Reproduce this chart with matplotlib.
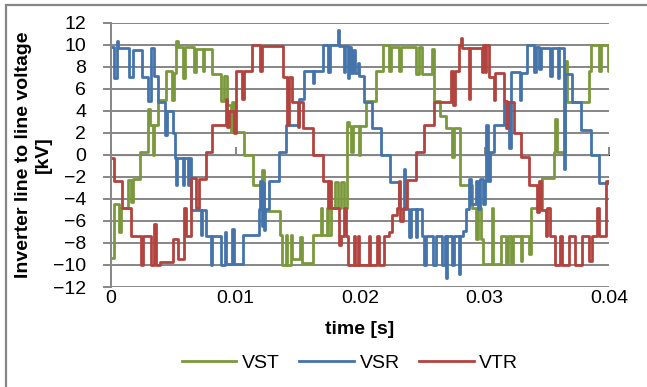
import numpy as np
import matplotlib
matplotlib.use("Agg")
import matplotlib.pyplot as plt
from matplotlib.patches import Rectangle

plt.rcParams['font.family'] = ['Liberation Sans', 'DejaVu Sans']

# step data: time of each step [ms] and the level [kV]
vsr_t = [0.0, 0.22, 0.45, 0.6, 1.42, 1.75, 2.45, 3.0, 3.25, 3.45, 3.75, 4.35, 4.5, 5.0, 5.15,
         5.2, 5.3, 5.75, 5.85, 6.15, 6.25, 6.43, 7.2, 7.3, 7.6, 8.0, 8.1, 8.8, 9.15, 9.25,
         9.75, 9.85, 10.6, 11.9, 12.0, 12.1, 12.2, 12.3, 12.4, 12.7, 13.5, 14.05, 15.1, 15.5,
         16.2, 16.3, 17.0, 17.4, 17.6, 18.2, 18.3, 18.7, 18.8, 19.0, 19.1, 19.3, 19.45, 19.6,
         19.85, 19.95, 20.35, 21.0, 21.7, 22.4, 23.15, 23.5, 23.6, 23.95, 24.1, 24.5, 24.6,
         25.0, 25.15, 25.3, 25.9, 26.1, 26.6, 26.8, 26.9, 27.0, 27.4, 27.55, 27.95, 28.05,
         28.25, 28.5, 28.75, 28.9, 29.3, 29.45, 29.6, 29.85, 30.0, 30.15, 30.3, 30.45, 30.75,
         31.55, 31.7, 31.85, 32.0, 32.1, 32.85, 32.95, 33.45, 34.0, 34.1, 34.4, 34.5, 35.3,
         35.45, 35.9, 36.0, 36.35, 36.45, 37.05, 37.75, 38.55, 39.2, 40.0]
vsr_v = [9.8, 7.0, 10.3, 9.7, 7.1, 9.5, 7.1, 4.9, 9.7, 7.2, 4.8, 1.8, 4.0, 2.0, -0.3,
         -2.7, -0.3, -2.7, -0.3, -2.7, -0.3, -5.0, -7.3, -5.0, -7.4, -10.0, -7.4, -10.0, -7.0, -9.9,
         -6.7, -9.9, -7.3, -4.9, -2.4, -6.5, -2.6, -6.8, -4.9, -2.4, 0.3, 2.7, 5.1, 7.6,
         6.5, 7.6, 10.0, 7.5, 10.0, 11.3, 9.9, 7.5, 9.9, 7.0, 9.8, 7.4, 9.5, 7.4,
         8.3, 7.2, 4.8, 2.4, 0.0, -2.5, -4.9, -1.3, -4.9, -7.5, -4.9, -7.5, -4.9,
         -7.4, -10.0, -7.4, -10.0, -7.4, -10.0, -7.4, -11.2, -7.4, -10.0, -7.4, -10.8, -7.4,
         -6.9, -4.9, -2.2, -4.5, -2.4, -4.9, -2.2, -4.5, -2.4, 2.7, -2.4, 0.3, 2.7,
         4.8, 2.4, 4.8, 0.6, 7.5, 5.0, 7.4, 10.0, 7.5, 9.8, 7.8, 9.7, 7.2,
         9.7, 7.0, 9.7, -1.3, 7.3, 4.8, 2.3, 0.0, -2.6, -2.6]

vst_t = [0.0, 0.25, 0.65, 0.8, 1.35, 1.6, 1.75, 2.3, 3.0, 3.15, 3.35, 3.45, 3.75, 4.4, 4.9,
         5.05, 5.2, 5.35, 5.75, 5.95, 6.65, 6.8, 7.35, 7.5, 8.15, 8.85, 9.05, 9.35, 9.6, 9.75,
         9.9, 10.7, 11.4, 12.15, 12.25, 13.6, 13.7, 14.05, 14.15, 14.45, 14.55, 15.2, 15.35,
         16.2, 16.85, 16.95, 17.35, 17.45, 17.65, 18.0, 18.2, 18.5, 18.7, 18.95, 19.1, 19.25,
         19.4, 19.9, 20.0, 20.45, 21.3, 21.85, 22.35, 22.5, 23.15, 23.3, 24.5, 24.75, 25.0,
         25.8, 25.95, 26.4, 26.9, 27.4, 27.55, 28.05, 29.0, 29.35, 29.5, 29.7, 29.85, 30.6,
         30.7, 31.3, 31.7, 31.85, 32.1, 32.25, 32.9, 33.05, 33.55, 33.7, 34.6, 35.55, 35.7,
         35.8, 36.45, 36.6, 37.55, 38.4, 38.55, 39.2, 39.35, 39.95, 40.0]
vst_v = [-9.4, -4.5, -7.0, -4.8, -2.3, -4.3, -2.2, 0.3, 4.2, 2.7, 0.0, 2.7, 5.0, 7.6, 5.0,
         7.4, 10.3, 9.8, 7.0, 9.8, 7.5, 9.6, 7.6, 9.6, 7.3, 4.9, 7.2, 4.5, 2.1, 4.8,
         2.1, 0.0, -2.7, -1.4, -5.1, -7.3, -10.0, -7.3, -10.0, -7.3, -9.5, -7.5, -9.8,
         -7.3, -4.8, -7.3, -4.8, -7.3, -4.8, -2.5, -4.8, -2.5, -4.8, 3.0, 2.6, 0.3,
         2.6, 0.0, 2.6, 4.9, 7.6, 10.0, 7.6, 9.8, 7.6, 9.8, 7.3, 9.8, 7.3,
         9.6, 4.9, 3.5, 2.4, -0.2, 2.4, -2.7, -4.8, -7.6, -4.8, -7.6, -9.9, -4.8,
         -9.9, -7.4, -9.8, -7.4, -9.8, -7.4, -9.6, -7.4, -9.0, -4.8, -2.1, 0.3, 3.3,
         0.3, 8.5, 4.8, 4.8, 7.6, 10.0, 7.6, 10.0, 7.6, 7.6]

vtr_t = [0.0, 0.25, 0.85, 1.6, 2.4, 2.55, 3.2, 3.45, 3.6, 3.9, 4.95, 5.35, 5.85, 6.0, 6.4,
         6.8, 7.1, 7.6, 8.15, 9.2, 9.35, 9.5, 9.85, 10.0, 10.55, 10.7, 11.35, 12.0, 12.1,
         13.8, 14.15, 14.3, 14.55, 15.0, 15.1, 15.4, 16.2, 17.0, 17.4, 17.55, 17.65, 18.35,
         18.45, 18.7, 18.85, 19.0, 19.5, 19.6, 19.85, 19.95, 20.7, 20.8, 21.4, 21.5, 21.9,
         22.35, 22.6, 23.0, 23.15, 23.25, 23.45, 23.8, 24.5, 25.15, 25.95, 27.3, 27.5, 27.6,
         27.95, 28.1, 28.2, 28.75, 28.85, 29.8, 29.9, 30.05, 30.15, 30.35, 30.75, 30.85, 31.6,
         31.8, 31.9, 32.35, 32.9, 33.6, 34.25, 34.4, 34.55, 34.9, 35.05, 35.3, 35.7, 36.1,
         36.2, 36.8, 37.3, 37.85, 38.4, 38.65, 39.05, 39.2, 39.75, 40.0]
vtr_v = [-0.3, -2.4, -4.8, -7.4, -10.0, -7.4, -10.0, -6.3, -10.0, -9.7, -7.6, -9.5, -4.8, -7.4, -2.1,
         -4.8, -2.2, 0.3, 2.7, 5.1, 2.5, 4.0, 2.0, 7.6, 5.1, 7.6, 10.0, 7.6, 9.9,
         7.1, 2.7, 7.1, 4.8, 2.5, 4.8, 2.4, 0.0, -2.4, -4.8, -2.4, -4.8, -8.2,
         -7.4, -4.8, -7.4, -10.0, -7.4, -10.0, -7.4, -10.0, -7.4, -10.0, -7.4, -10.0, -7.4,
         -7.0, -5.5, -4.8, -2.4, -6.0, -4.8, -2.3, 0.3, 2.7, 4.8, 7.6, 4.5, 7.6,
         10.0, 10.6, 9.7, 5.1, 9.7, 7.5, 10.0, 7.5, 10.0, 7.1, 5.0, 7.4, 4.9,
         2.4, 4.8, 2.0, -0.2, -2.7, -5.2, -2.4, -5.0, -7.4, -4.8, -7.4, -10.0, -7.4,
         -10.0, -7.4, -10.0, -7.4, -9.6, -7.4, -4.8, -7.4, -2.4, -2.4]

series = ['VST', 'VSR', 'VTR']
colors = ['#7a993c', '#4573ab', '#b2433f']

fig = plt.figure(figsize=(6.47, 3.87), dpi=100)
ax = fig.add_axes([111/647, 1 - 287/387, 498/647, 264.3/387])

# frame around the whole chart (Excel chart area)
fig.patches.append(Rectangle((6/647, -0.1), 1.2, 1.1 - 5/387, transform=fig.transFigure,
                             fill=False, edgecolor='#868686', lw=1.6))

for name, t, v, c in zip(series, [vst_t, vsr_t, vtr_t], [vst_v, vsr_v, vtr_v], colors):
    ax.plot(np.array(t) / 1000, v, drawstyle='steps-post', color=c, lw=2.0, label=name)

ax.set_xlim(0, 0.04)
ax.set_ylim(-12, 12)
ax.set_yticks(range(-12, 13, 2))
ax.set_xticks([0, 0.01, 0.02, 0.03, 0.04])
ax.set_xticklabels(['0', '0.01', '0.02', '0.03', '0.04'])
ax.yaxis.grid(True, color='#868686', lw=1.4)
ax.set_axisbelow(True)
for s in ['top', 'right', 'bottom']:
    ax.spines[s].set_visible(False)
ax.spines['left'].set_color('#868686')
ax.spines['left'].set_linewidth(1.4)
ax.tick_params(axis='y', labelsize=14, length=6, width=1.4, color='#868686', pad=12)
ax.tick_params(axis='x', labelsize=14, length=0, pad=2)

# x axis line crosses at y = 0 with its tick marks
sec = ax.secondary_xaxis(0.5)
sec.set_xticks([0, 0.01, 0.02, 0.03, 0.04])
sec.set_xticklabels([])
sec.tick_params(axis='x', direction='out', length=6, width=1.4, color='#868686')
sec.spines['bottom'].set_color('#868686')
sec.spines['bottom'].set_linewidth(1.4)

ax.set_xlabel('time [s]', fontsize=14, fontweight='bold', labelpad=10)
ax.set_ylabel('Inverter line to line voltage\n[kV]', fontsize=14, fontweight='bold',
              labelpad=1, linespacing=1.2)

ax.legend(loc='center', bbox_to_anchor=(0.48, -0.2875), ncol=3, frameon=False,
          fontsize=14, handlelength=2.8, columnspacing=1.0, handletextpad=0.3)

fig.savefig('out.png', dpi=100)
